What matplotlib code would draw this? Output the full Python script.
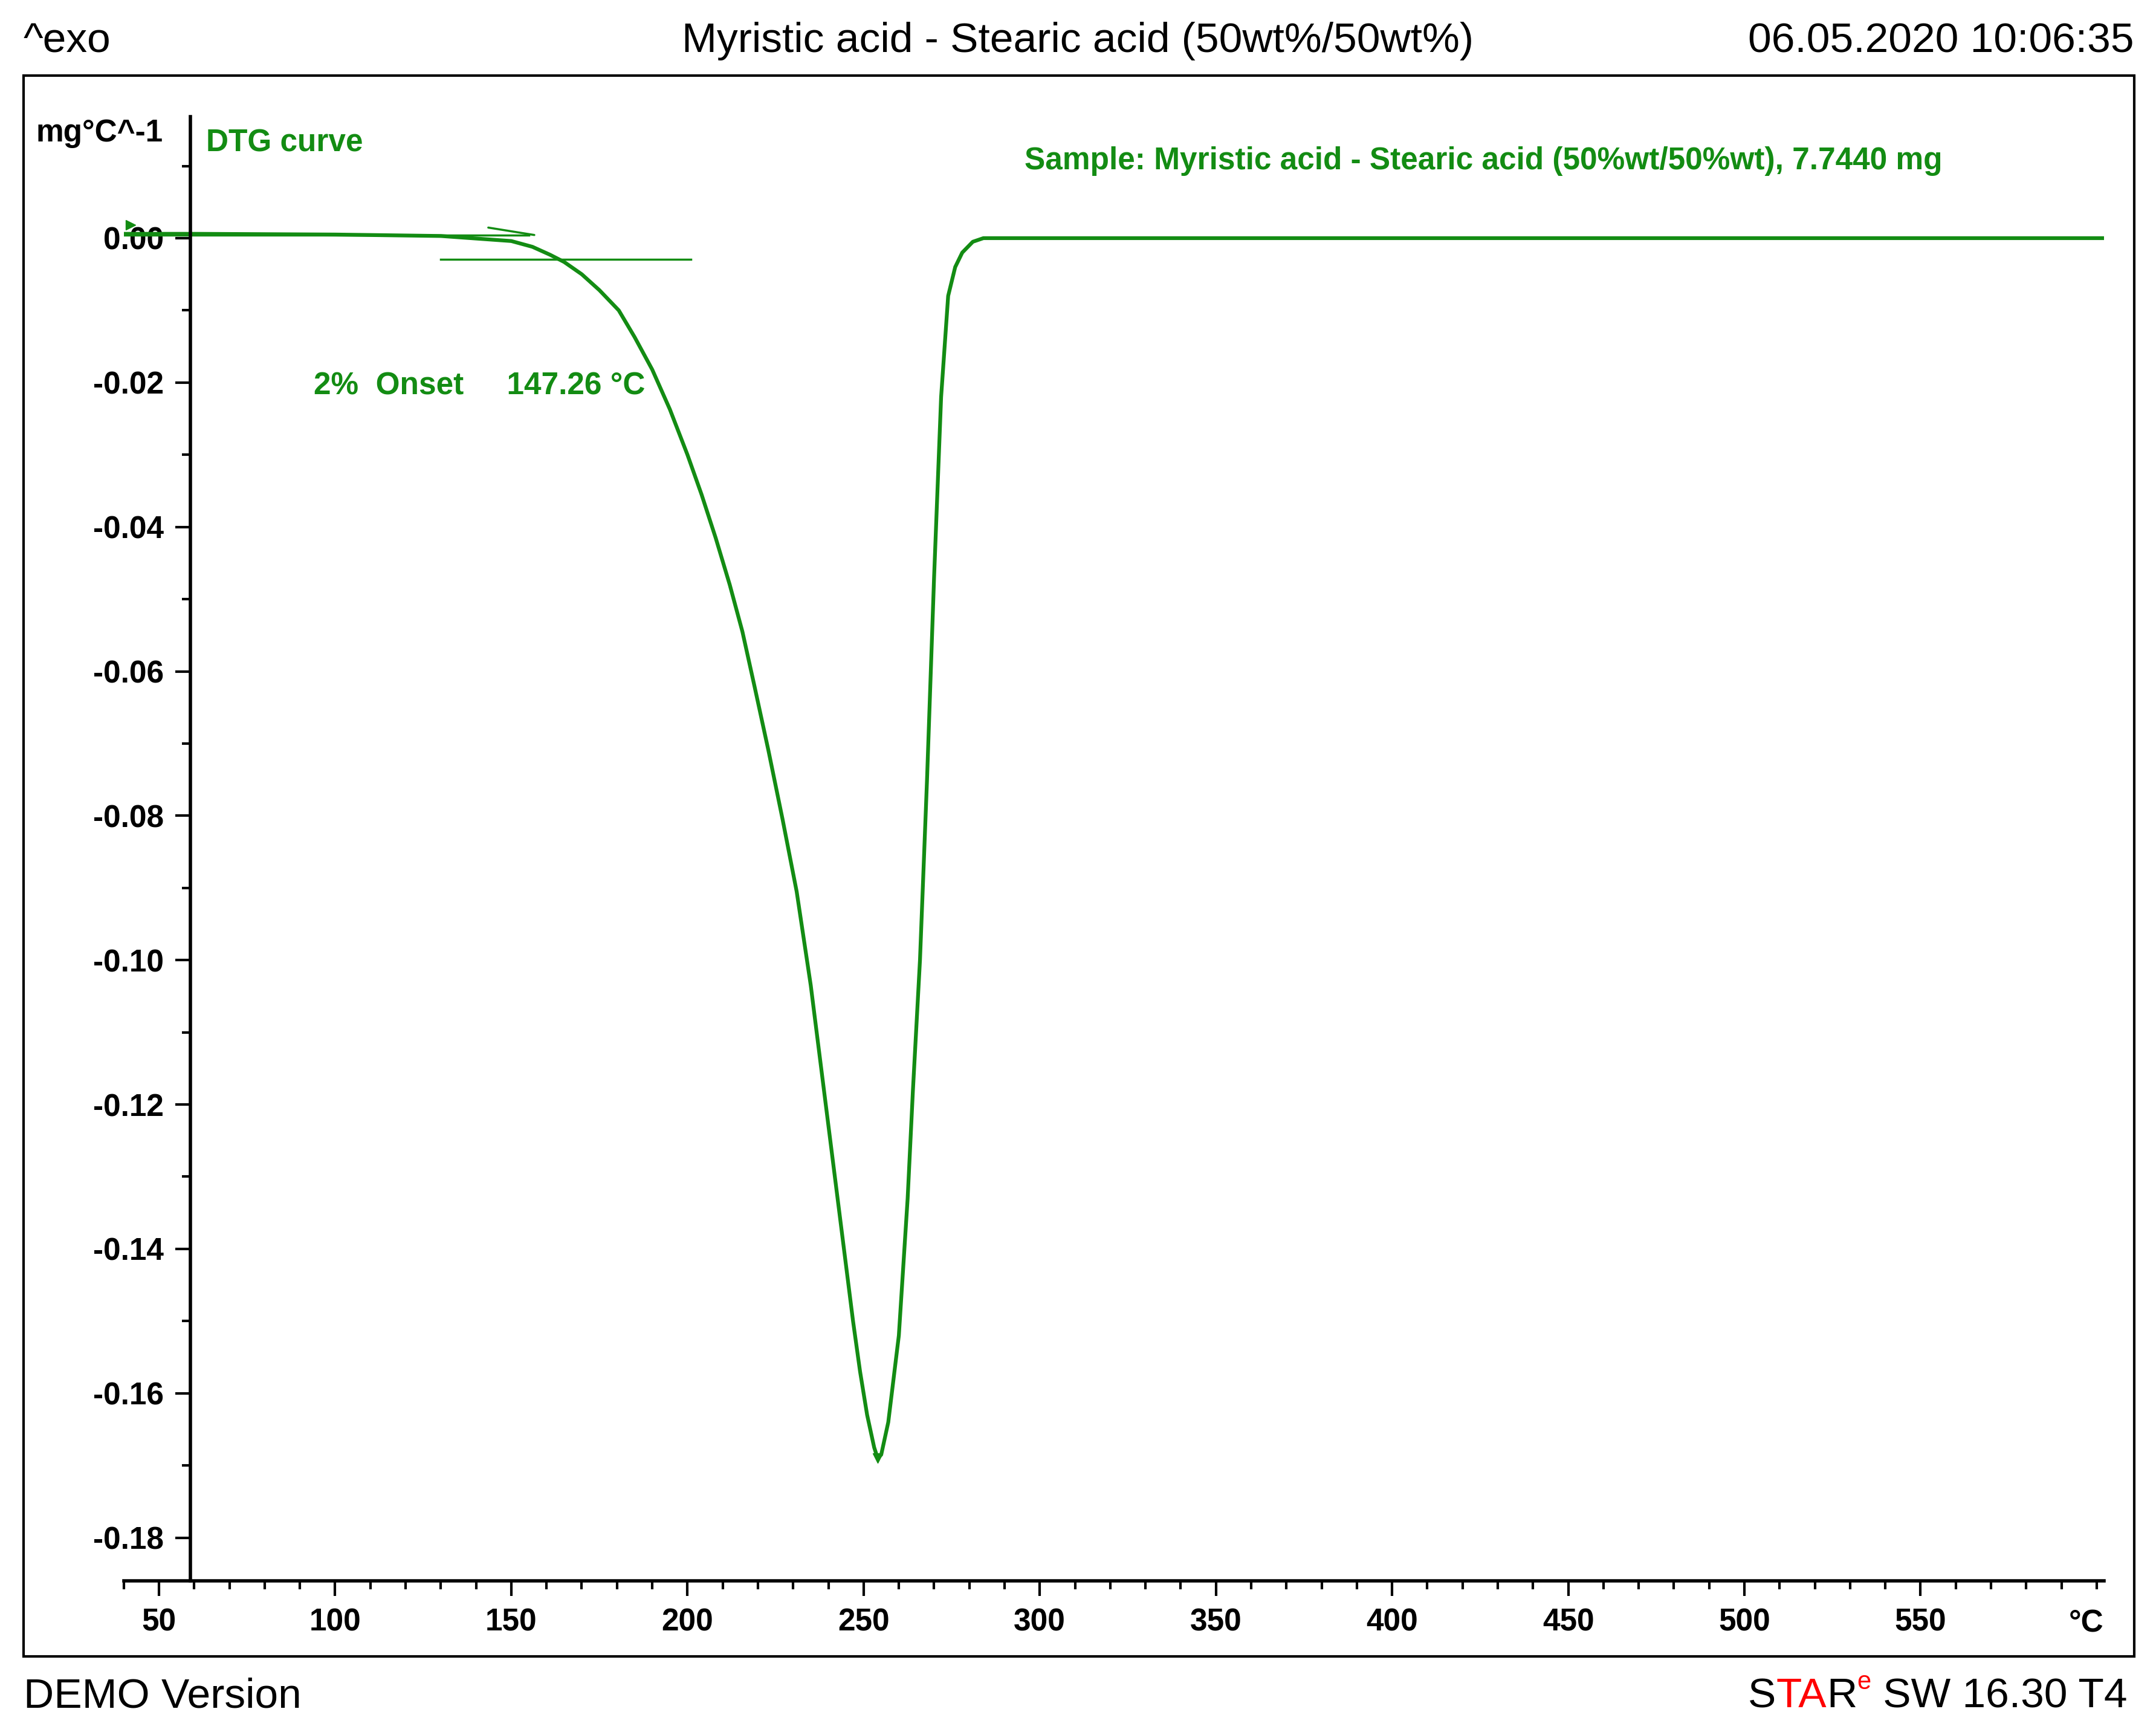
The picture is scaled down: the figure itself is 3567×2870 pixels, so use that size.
import matplotlib
matplotlib.use("Agg")
import matplotlib.pyplot as plt
from matplotlib.ticker import MultipleLocator

T = [40, 60, 100, 130, 150, 156, 161, 165, 170, 175, 180.5, 185, 190, 195, 200, 204, 208, 212, 215.6, 219, 223, 227, 231, 235, 239, 243, 247, 249, 251, 253, 254, 255, 257, 260, 262.5, 264, 266, 268, 270, 272, 274, 276, 278, 281, 284, 300, 400, 500, 602]
D = [0.0006, 0.0006, 0.0005, 0.0003, -0.0004, -0.0012, -0.0023, -0.0033, -0.005, -0.0072, -0.0100, -0.0137, -0.0182, -0.0237, -0.0300, -0.0355, -0.0415, -0.0480, -0.0545, -0.0620, -0.0710, -0.0805, -0.0905, -0.1035, -0.1190, -0.1345, -0.1500, -0.1570, -0.1630, -0.1675, -0.1690, -0.1685, -0.1640, -0.1520, -0.1330, -0.1180, -0.1000, -0.0750, -0.0470, -0.0220, -0.0080, -0.0040, -0.0020, -0.0005, 0.0, 0.0, 0.0, 0.0, 0.0]
xticks = [50, 100, 150, 200, 250, 300, 350, 400, 450, 500, 550]
yticks = [0.00, -0.02, -0.04, -0.06, -0.08, -0.10, -0.12, -0.14, -0.16, -0.18]
G = "#138c13"

plt.rcParams['font.family'] = ['Liberation Sans', 'DejaVu Sans']
fig = plt.figure(figsize=(35.67, 28.70), dpi=100)
W, H = 1568, 1262
def fx(p): return p / W
def fy(p): return 1 - p / H
fig.add_artist(plt.Rectangle((fx(17), fy(1205)), fx(1552) - fx(17), fy(55) - fy(1205),
                             fill=False, lw=3, color='black', transform=fig.transFigure))
ax = fig.add_axes([fx(90), fy(1150), fx(1530) - fx(90), fy(85) - fy(1150)])
ax.set_xlim(40, 602)
ax.set_ylim(-0.186, 0.0168)
for s in ['top', 'right']:
    ax.spines[s].set_visible(False)
ax.spines['left'].set_position(('data', 59))
ax.spines['left'].set_linewidth(4)
ax.spines['bottom'].set_linewidth(4)
ax.set_xticks(xticks)
ax.set_yticks(yticks)
ax.set_yticklabels([f"{v:.2f}" for v in yticks])
ax.xaxis.set_minor_locator(MultipleLocator(10))
ax.yaxis.set_minor_locator(MultipleLocator(0.01))
ax.tick_params(axis='both', which='major', length=18, width=3, labelsize=37, direction='out', pad=14)
ax.tick_params(axis='both', which='minor', length=10, width=3, direction='out')
for lab in ax.get_xticklabels() + ax.get_yticklabels():
    lab.set_fontweight('bold')
ax.plot(T, D, color=G, lw=4.5)
ax.plot([36, 155], [0.0004, 0.0004], color=G, lw=2.5)
ax.plot([130, 201], [-0.0029, -0.0029], color=G, lw=2.5)
ax.annotate('', xy=(157, 0.0004), xytext=(143, 0.0015),
            arrowprops=dict(arrowstyle='-', color=G, lw=2.5))
ax.plot([42], [0.0018], marker='>', color=G, ms=12, clip_on=False)
ax.plot([254], [-0.169], marker='v', color=G, ms=12)

fs = 37
fig.text(fx(26), fy(97), 'mg°C^-1', fontsize=fs, fontweight='bold', va='center')
fig.text(fx(150), fy(104), 'DTG curve', fontsize=fs, fontweight='bold', color=G, va='center')
fig.text(fx(745), fy(117), 'Sample: Myristic acid - Stearic acid (50%wt/50%wt), 7.7440 mg',
         fontsize=fs, fontweight='bold', color=G, va='center')
fig.text(fx(228), fy(281), '2%  Onset     147.26 °C', fontsize=fs, fontweight='bold', color=G, va='center')
fig.text(fx(1530), fy(1181), '°C', fontsize=fs, fontweight='bold', ha='right', va='center')

bf = 50
fig.text(fx(17), fy(30), '^exo', fontsize=bf, va='center')
fig.text(fx(784), fy(30), 'Myristic acid - Stearic acid (50wt%/50wt%)', fontsize=bf, va='center', ha='center')
fig.text(fx(1552), fy(30), '06.05.2020 10:06:35', fontsize=bf, va='center', ha='right')
fig.text(fx(17), fy(1234), 'DEMO Version', fontsize=bf, va='center')

r = fig.canvas.get_renderer()
inv = fig.transFigure.inverted()
x = fx(1547)
y = fy(1234)
for txt, col, size, dy in [(' SW 16.30 T4', 'black', bf, 0), ('e', 'red', 30, 0.008),
                           ('R', 'black', bf, 0), ('TA', 'red', bf, 0), ('S', 'black', bf, 0)]:
    t = fig.text(x, y + dy, txt, fontsize=size, color=col, va='center', ha='right')
    bb = t.get_window_extent(r)
    x = inv.transform((bb.x0, bb.y0))[0]
fig.savefig('out.png', dpi=100)
